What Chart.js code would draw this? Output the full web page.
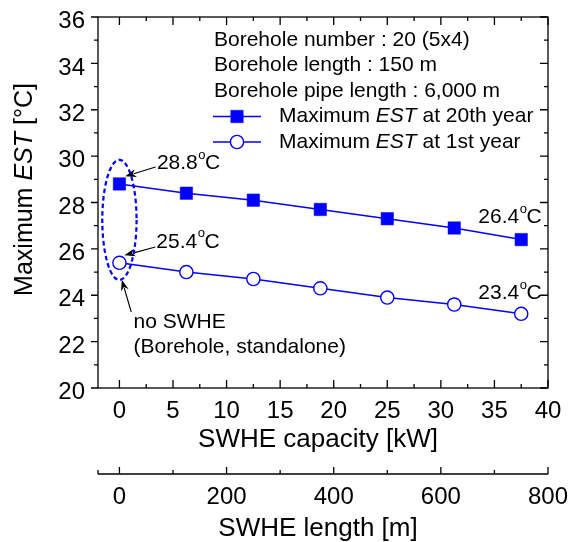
<!DOCTYPE html>
<html>
<head>
<meta charset="utf-8">
<script src="https://cdn.jsdelivr.net/npm/chart.js@4/dist/chart.umd.min.js"></script>
<style>
  body { margin: 0; background: #fff; }
  canvas { display: block; }
</style>
</head>
<body>
<canvas id="estChart" width="569" height="542"></canvas>
<script>
// datos
const capacityKW = [0, 6.25, 12.5, 18.75, 25, 31.25, 37.5];
const estYear20 = [28.8, 28.4, 28.1, 27.7, 27.3, 26.9, 26.4];
const estYear1 = [25.4, 25.0, 24.7, 24.3, 23.9, 23.6, 23.2];

const capacityTicks = [0, 5, 10, 15, 20, 25, 30, 35, 40];
const lengthTicks = [0, 200, 400, 600, 800];
const tempTicks = [20, 22, 24, 26, 28, 30, 32, 34, 36];

const infoLines = [
    'Borehole number : 20 (5x4)',
    'Borehole length : 150 m',
    'Borehole pipe length : 6,000 m'
];
const seriesNames = [
    [['Maximum ', false], ['EST', true], [' at 20th year', false]],
    [['Maximum ', false], ['EST', true], [' at 1st year', false]]
];

const FONT = '"Liberation Sans", Arial, Helvetica, sans-serif';
const BLUE = '#0000ff';

function toPoints(ys) {
    return capacityKW.map((x, i) => ({ x: x, y: ys[i] }));
}

// texto con partes en cursiva
function drawRich(ctx, parts, x, y, size) {
    let cx = x;
    parts.forEach(([text, italic]) => {
        ctx.font = (italic ? 'italic ' : '') + size + 'px ' + FONT;
        ctx.fillText(text, cx, y);
        cx += ctx.measureText(text).width;
    });
    return cx - x;
}

function richWidth(ctx, parts, size) {
    let w = 0;
    parts.forEach(([text, italic]) => {
        ctx.font = (italic ? 'italic ' : '') + size + 'px ' + FONT;
        w += ctx.measureText(text).width;
    });
    return w;
}

// "25.4°C" con el grado pequeño y elevado
function drawTemp(ctx, value, x, y) {
    ctx.font = '21px ' + FONT;
    ctx.fillText(value, x, y);
    let cx = x + ctx.measureText(value).width + 0.5;
    ctx.font = '13px ' + FONT;
    ctx.fillText('o', cx, y - 8);
    cx += ctx.measureText('o').width - 0.5;
    ctx.font = '21px ' + FONT;
    ctx.fillText('C', cx, y);
}

function arrow(ctx, x1, y1, x2, y2) {
    const ang = Math.atan2(y2 - y1, x2 - x1);
    const len = 11, half = 4;
    ctx.beginPath();
    ctx.moveTo(x1, y1);
    ctx.lineTo(x2 - Math.cos(ang) * len * 0.8, y2 - Math.sin(ang) * len * 0.8);
    ctx.stroke();
    ctx.beginPath();
    ctx.moveTo(x2, y2);
    ctx.lineTo(x2 - Math.cos(ang) * len + Math.sin(ang) * half, y2 - Math.sin(ang) * len - Math.cos(ang) * half);
    ctx.lineTo(x2 - Math.cos(ang) * len * 0.7, y2 - Math.sin(ang) * len * 0.7);
    ctx.lineTo(x2 - Math.cos(ang) * len - Math.sin(ang) * half, y2 - Math.sin(ang) * len + Math.cos(ang) * half);
    ctx.closePath();
    ctx.fill();
}

// marco, marcas de ejes, titulos, leyenda y anotaciones
const decorations = {
    id: 'decorations',
    afterDraw(chart) {
        const { ctx, chartArea: a, scales } = chart;
        const sx = scales.x, sy = scales.y, sx2 = scales.x2;
        const px = v => sx.getPixelForValue(v);
        const py = v => sy.getPixelForValue(v);

        ctx.save();
        ctx.strokeStyle = '#000';
        ctx.fillStyle = '#000';
        ctx.lineWidth = 1.3;
        ctx.strokeRect(a.left, a.top, a.right - a.left, a.bottom - a.top);

        ctx.beginPath();
        const seg = (x1, y1, x2, y2) => { ctx.moveTo(x1, y1); ctx.lineTo(x2, y2); };
        capacityTicks.forEach((v, i) => {
            const p = px(v);
            seg(p, a.top, p, a.top + 8);
            seg(p, a.bottom, p, a.bottom - 8);
            if (i < capacityTicks.length - 1) {
                const m = px((v + capacityTicks[i + 1]) / 2);
                seg(m, a.top, m, a.top + 4);
                seg(m, a.bottom, m, a.bottom - 4);
            }
        });
        tempTicks.forEach((v, i) => {
            const p = py(v);
            seg(a.left, p, a.left - 7, p);
            seg(a.right, p, a.right - 8, p);
            if (i < tempTicks.length - 1) {
                const m = py((v + tempTicks[i + 1]) / 2);
                seg(a.left, m, a.left - 4, m);
                seg(a.right, m, a.right - 4, m);
            }
        });
        // eje secundario (longitud)
        const lineY = sx2.top;
        seg(sx2.left, lineY, sx2.right, lineY);
        seg(sx2.left, lineY, sx2.left, lineY - 4);
        lengthTicks.forEach((v, i) => {
            const p = sx2.getPixelForValue(v);
            seg(p, lineY, p, lineY - 7);
            if (i < lengthTicks.length - 1) {
                const m = sx2.getPixelForValue((v + lengthTicks[i + 1]) / 2);
                seg(m, lineY, m, lineY - 4);
            }
        });
        ctx.stroke();

        // titulos de ejes
        ctx.textBaseline = 'middle';
        ctx.textAlign = 'center';
        ctx.font = '26px ' + FONT;
        ctx.fillText('SWHE capacity [kW]', (a.left + a.right) / 2 - 5, sx.top + 52);
        ctx.fillText('SWHE length [m]', (a.left + a.right) / 2 - 5, sx2.top + 55);

        ctx.textAlign = 'left';
        const yTitle = [['Maximum ', false], ['EST', true], [' [°C]', false]];
        ctx.save();
        ctx.translate(25, (a.top + a.bottom) / 2 - 13);
        ctx.rotate(-Math.PI / 2);
        drawRich(ctx, yTitle, -richWidth(ctx, yTitle, 25) / 2, 0, 25);
        ctx.restore();

        // cuadro de texto y leyenda
        const lx = a.left + 116;
        ctx.font = '21px ' + FONT;
        infoLines.forEach((t, i) => ctx.fillText(t, lx, a.top + 23 + i * 25.5));
        chart.data.datasets.forEach((ds, i) => {
            const ry = a.top + 99.5 + i * 25.5;
            ctx.strokeStyle = ds.borderColor;
            ctx.lineWidth = ds.borderWidth;
            ctx.beginPath();
            ctx.moveTo(lx - 1, ry);
            ctx.lineTo(lx + 47, ry);
            ctx.stroke();
            ctx.fillStyle = ds.pointBackgroundColor;
            ctx.lineWidth = ds.pointBorderWidth;
            Chart.helpers.drawPoint(ctx, { pointStyle: ds.pointStyle, radius: ds.pointRadius, borderWidth: ds.pointBorderWidth }, lx + 23, ry);
            ctx.fillStyle = '#000';
            drawRich(ctx, seriesNames[i], lx + 65, ry, 21);
        });

        // anotaciones
        ctx.fillStyle = '#000';
        ctx.strokeStyle = '#000';
        drawTemp(ctx, '28.8', px(3.5), py(29.69));
        drawTemp(ctx, '25.4', px(3.44), py(26.30));
        drawTemp(ctx, '26.4', px(33.5), py(27.37));
        drawTemp(ctx, '23.4', px(33.5), py(24.07));
        ctx.font = '21px ' + FONT;
        ctx.fillText('no SWHE', px(1.31), py(22.85));
        ctx.fillText('(Borehole, standalone)', px(1.31), py(21.77));
        ctx.lineWidth = 1.2;
        arrow(ctx, px(3.37), py(29.53), px(0.55), py(29.13));
        arrow(ctx, px(3.35), py(26.08), px(0.46), py(25.72));
        arrow(ctx, px(1.10), py(23.28), px(0.22), py(24.67));

        ctx.strokeStyle = BLUE;
        ctx.lineWidth = 2.2;
        ctx.setLineDash([4.5, 3]);
        ctx.beginPath();
        ctx.ellipse(px(0), py(27.25), px(1.6) - px(0), py(24.66) - py(27.25), 0, 0, Math.PI * 2);
        ctx.stroke();
        ctx.restore();
    }
};

const tickFont = { family: FONT, size: 24 };

function fixHeight(h) {
    return s => { s.height = h; s.paddingLeft = 0; s.paddingRight = 0; };
}

new Chart(document.getElementById('estChart'), {
    type: 'line',
    data: {
        datasets: [
            {
                label: 'Maximum EST at 20th year',
                data: toPoints(estYear20),
                borderColor: BLUE,
                borderWidth: 1.5,
                pointStyle: 'rect',
                pointRadius: 8.8,
                pointBackgroundColor: BLUE,
                pointBorderColor: BLUE,
                pointBorderWidth: 0.5
            },
            {
                label: 'Maximum EST at 1st year',
                data: toPoints(estYear1),
                borderColor: BLUE,
                borderWidth: 1.5,
                pointStyle: 'circle',
                pointRadius: 6.6,
                pointBackgroundColor: '#fff',
                pointBorderColor: BLUE,
                pointBorderWidth: 1.4
            }
        ]
    },
    options: {
        responsive: false,
        animation: false,
        events: [],
        layout: { padding: { left: 0, top: 17, right: 21, bottom: 0 } },
        plugins: {
            legend: { display: false },
            tooltip: { enabled: false }
        },
        scales: {
            x: {
                type: 'linear',
                position: 'bottom',
                weight: 0,
                min: -2,
                max: 40,
                afterBuildTicks: s => { s.ticks = capacityTicks.map(v => ({ value: v })); },
                afterFit: fixHeight(86),
                grid: { display: false, drawTicks: false },
                border: { display: false },
                ticks: { font: tickFont, color: '#000', padding: 9, maxRotation: 0, autoSkip: false }
            },
            x2: {
                type: 'linear',
                position: 'bottom',
                weight: 1,
                min: -40,
                max: 800,
                afterBuildTicks: s => { s.ticks = lengthTicks.map(v => ({ value: v })); },
                afterFit: fixHeight(68),
                grid: { display: false, drawTicks: false },
                border: { display: false },
                ticks: { font: tickFont, color: '#000', padding: 9, maxRotation: 0, autoSkip: false }
            },
            y: {
                type: 'linear',
                position: 'left',
                min: 20,
                max: 36,
                afterBuildTicks: s => { s.ticks = tempTicks.map(v => ({ value: v })); },
                afterFit: s => { s.width = 98; s.paddingTop = 0; s.paddingBottom = 0; },
                grid: { display: false, drawTicks: false },
                border: { display: false },
                ticks: { font: tickFont, color: '#000', padding: 13, labelOffset: 4.5 }
            }
        }
    },
    plugins: [decorations]
});
</script>
</body>
</html>
